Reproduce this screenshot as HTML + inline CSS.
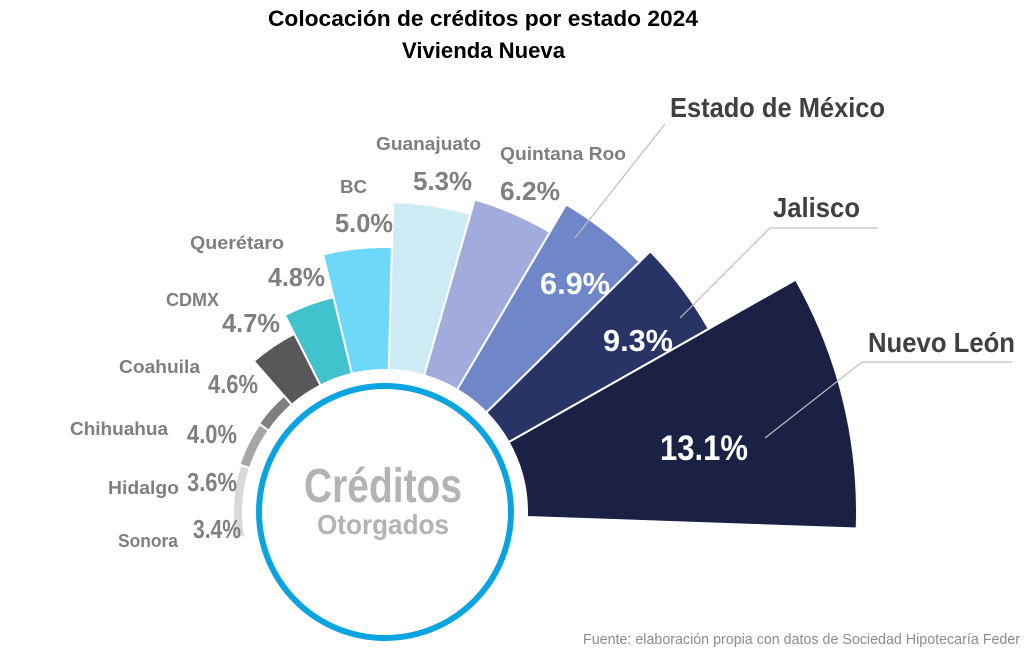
<!DOCTYPE html>
<html><head><meta charset="utf-8"><style>
body{margin:0;background:#fff;width:1024px;height:654px;overflow:hidden}
svg text{font-family:"Liberation Sans Narrow","Liberation Sans",sans-serif;font-weight:bold}
</style></head><body>
<svg id="s" width="1024" height="654" viewBox="0 0 1024 654" xmlns="http://www.w3.org/2000/svg">
<g id="sec"></g>
<circle cx="385" cy="512" r="126" fill="#fff" stroke="#0aa5e0" stroke-width="6"/>
<text x="383" y="502" text-anchor="middle" font-size="48" fill="#b3b3b3" textLength="158" lengthAdjust="spacingAndGlyphs">Créditos</text>
<text x="383" y="534" text-anchor="middle" font-size="28" fill="#b3b3b3" textLength="132" lengthAdjust="spacingAndGlyphs">Otorgados</text>
<text x="268" y="26" font-size="22" fill="#000" textLength="430" lengthAdjust="spacingAndGlyphs">Colocación de créditos por estado  2024</text>
<text x="402" y="58" font-size="22" fill="#000" textLength="163" lengthAdjust="spacingAndGlyphs">Vivienda Nueva</text>
<g stroke="#bfbfbf" stroke-width="1.2" fill="none">
<polyline points="665,124 575,238"/>
<polyline points="878,228 770,228 680,318"/>
<polyline points="1012,362 862,362 765,438"/>
</g>
<g fill="#404040" font-size="28" lengthAdjust="spacingAndGlyphs">
<text x="670" y="117" textLength="215" lengthAdjust="spacingAndGlyphs">Estado de México</text>
<text x="773" y="217" textLength="87" lengthAdjust="spacingAndGlyphs">Jalisco</text>
<text x="868" y="352" textLength="147" lengthAdjust="spacingAndGlyphs">Nuevo León</text>
</g>
<g fill="#fff">
<text x="540" y="294" font-size="31" textLength="70" lengthAdjust="spacingAndGlyphs">6.9%</text>
<text x="603" y="351" font-size="31" textLength="70" lengthAdjust="spacingAndGlyphs">9.3%</text>
<text x="660" y="460" font-size="35" textLength="88" lengthAdjust="spacingAndGlyphs">13.1%</text>
</g>
<g fill="#7f7f7f" font-size="18">
<text x="376" y="150" textLength="105" lengthAdjust="spacingAndGlyphs">Guanajuato</text>
<text x="500" y="160" textLength="126" lengthAdjust="spacingAndGlyphs">Quintana Roo</text>
<text x="340" y="193" textLength="27" lengthAdjust="spacingAndGlyphs">BC</text>
<text x="190" y="249" textLength="94" lengthAdjust="spacingAndGlyphs">Querétaro</text>
<text x="166" y="306" textLength="53" lengthAdjust="spacingAndGlyphs">CDMX</text>
<text x="119" y="373" textLength="81" lengthAdjust="spacingAndGlyphs">Coahuila</text>
<text x="70" y="435" textLength="98" lengthAdjust="spacingAndGlyphs">Chihuahua</text>
<text x="108" y="494" textLength="71" lengthAdjust="spacingAndGlyphs">Hidalgo</text>
<text x="118" y="547" textLength="60" lengthAdjust="spacingAndGlyphs">Sonora</text>
</g>
<g fill="#7f7f7f" font-size="26">
<text x="413" y="190" textLength="59" lengthAdjust="spacingAndGlyphs">5.3%</text>
<text x="500" y="200" textLength="60" lengthAdjust="spacingAndGlyphs">6.2%</text>
<text x="335" y="232" textLength="58" lengthAdjust="spacingAndGlyphs">5.0%</text>
<text x="268" y="286" textLength="57" lengthAdjust="spacingAndGlyphs">4.8%</text>
<text x="222" y="332" textLength="58" lengthAdjust="spacingAndGlyphs">4.7%</text>
<text x="208" y="393" textLength="50" lengthAdjust="spacingAndGlyphs">4.6%</text>
<text x="187" y="443" textLength="50" lengthAdjust="spacingAndGlyphs">4.0%</text>
<text x="187" y="491" textLength="50" lengthAdjust="spacingAndGlyphs">3.6%</text>
<text x="193" y="538" textLength="48" lengthAdjust="spacingAndGlyphs">3.4%</text>
</g>
<text x="583" y="644" font-size="15" fill="#8c8c8c" style="font-weight:normal" textLength="437" lengthAdjust="spacingAndGlyphs">Fuente: elaboración propia con datos de Sociedad Hipotecaría Feder</text>
</svg>
<script>
var cx=385,cy=512;
var d=[[-2,29.5,472,142,"#1b2145"],[29.5,44.5,372,142,"#283366"],[44.5,59.5,357,142,"#6f86c8"],[59.5,74,325,142,"#a2acdc"],[74,88.5,310,142,"#ccebf5"],[88.5,103.5,265,142,"#6dd8f8"],[103.5,117,221,142,"#42c2cc"],[117,131,200,142,"#58585a"],[131,145,154,142,"#7f7f7f"],[145,162,153,142,"#a6a6a6"],[162,190,152,142,"#d9d9d9"]];
var g=document.getElementById("sec"),h="";
function p(a,r){a=a*Math.PI/180;return (cx+r*Math.cos(a)).toFixed(1)+","+(cy-r*Math.sin(a)).toFixed(1);}
d.forEach(function(s){
h+='<path d="M'+p(s[0],s[3])+' L'+p(s[0],s[2])+' A'+s[2]+','+s[2]+' 0 0 0 '+p(s[1],s[2])+' L'+p(s[1],s[3])+' A'+s[3]+','+s[3]+' 0 0 1 '+p(s[0],s[3])+'Z" fill="'+s[4]+'" stroke="#fff" stroke-width="2"/>';
});
g.innerHTML=h;
</script>
</body></html>
